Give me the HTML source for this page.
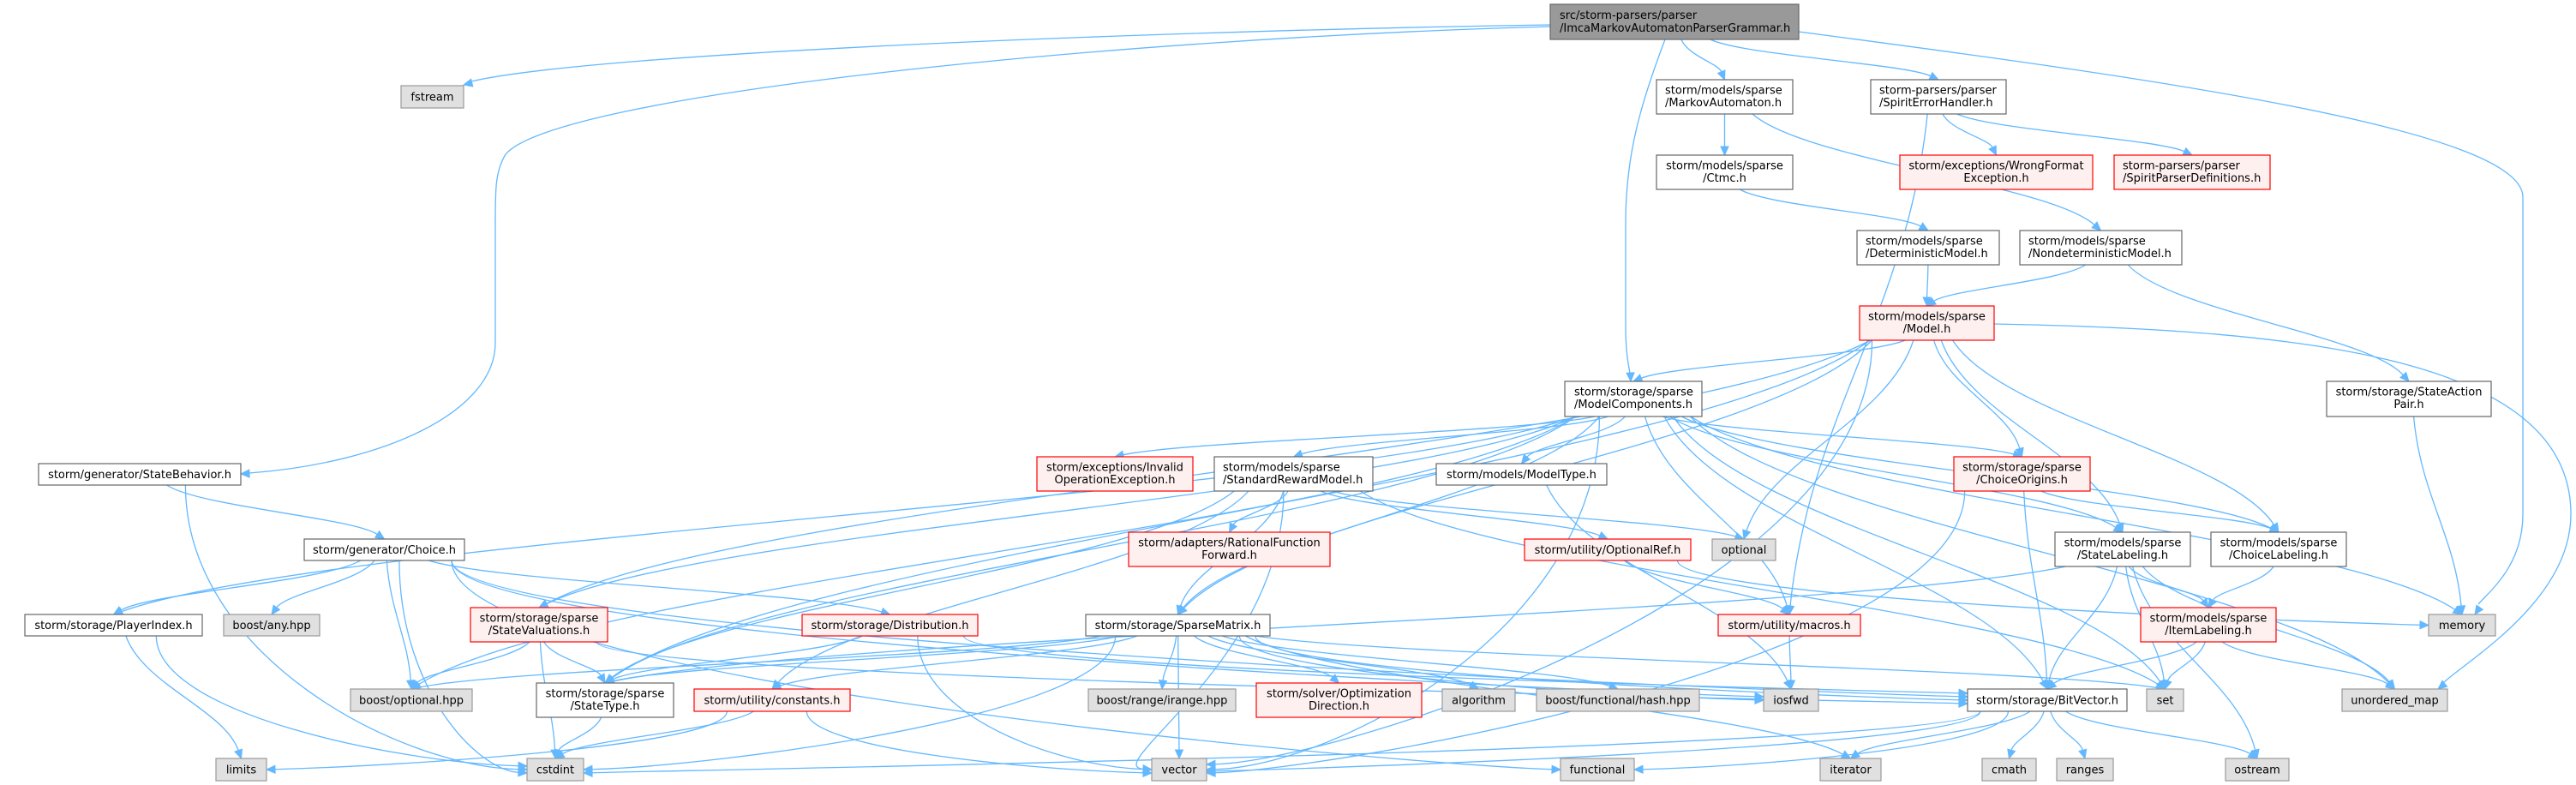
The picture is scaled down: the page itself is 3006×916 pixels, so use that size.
<!DOCTYPE html>
<html><head><meta charset="utf-8">
<style>
html,body{margin:0;padding:0;background:#fff;}
svg{display:block;}
text{font-family:"DejaVu Sans","Liberation Sans",sans-serif;font-size:13px;fill:#000;}
.W{fill:#fff;stroke:#666;stroke-width:1.2}
.G{fill:#e0e0e0;stroke:#999;stroke-width:1.2}
.R{fill:#fff0f0;stroke:#f00;stroke-width:1.2}
.M{fill:#999;stroke:#666;stroke-width:1.2}
#edges path.l{fill:none;stroke:#63b8ff;stroke-width:1.3}
#edges path.a{fill:#63b8ff;stroke:#63b8ff;stroke-width:1}
</style></head>
<body>
<svg id="s" width="3006" height="916" viewBox="0 0 3006 916" xmlns="http://www.w3.org/2000/svg">
<g id="edges"></g>
<g id="nodes">
<rect class="M" x="1809" y="5" width="290" height="41"/><text x="1820" y="22">src/storm-parsers/parser</text><text x="1820" y="37">/ImcaMarkovAutomatonParserGrammar.h</text>
<rect class="G" x="468" y="100" width="73" height="26"/><text x="504.5" y="117.5" text-anchor="middle">fstream</text>
<rect class="W" x="1933" y="93" width="159" height="40"/><text x="1943" y="109.5">storm/models/sparse</text><text x="1943" y="124">/MarkovAutomaton.h</text>
<rect class="W" x="2183" y="93" width="158" height="40"/><text x="2193" y="109.5">storm-parsers/parser</text><text x="2193" y="124">/SpiritErrorHandler.h</text>
<rect class="W" x="1933" y="181" width="159" height="40"/><text x="2012.5" y="197.5" text-anchor="middle">storm/models/sparse</text><text x="2012.5" y="212" text-anchor="middle">/Ctmc.h</text>
<rect class="R" x="2217" y="181" width="225" height="40"/><text x="2329.5" y="197.5" text-anchor="middle">storm/exceptions/WrongFormat</text><text x="2329.5" y="212" text-anchor="middle">Exception.h</text>
<rect class="R" x="2467" y="181" width="182" height="40"/><text x="2477" y="197.5">storm-parsers/parser</text><text x="2477" y="212">/SpiritParserDefinitions.h</text>
<rect class="W" x="2167" y="269" width="166" height="40"/><text x="2177" y="285.5">storm/models/sparse</text><text x="2177" y="300">/DeterministicModel.h</text>
<rect class="W" x="2357" y="269" width="189" height="40"/><text x="2367" y="285.5">storm/models/sparse</text><text x="2367" y="300">/NondeterministicModel.h</text>
<rect class="R" x="2170" y="357" width="157" height="40"/><text x="2248.5" y="373.5" text-anchor="middle">storm/models/sparse</text><text x="2248.5" y="388" text-anchor="middle">/Model.h</text>
<rect class="W" x="1826" y="445" width="160" height="41"/><text x="1837" y="461.5">storm/storage/sparse</text><text x="1837" y="476">/ModelComponents.h</text>
<rect class="W" x="2715" y="445" width="192" height="41"/><text x="2811" y="461.5" text-anchor="middle">storm/storage/StateAction</text><text x="2811" y="476" text-anchor="middle">Pair.h</text>
<rect class="W" x="45" y="541" width="236" height="25"/><text x="163" y="558" text-anchor="middle">storm/generator/StateBehavior.h</text>
<rect class="R" x="1210" y="533" width="182" height="40"/><text x="1301" y="549.5" text-anchor="middle">storm/exceptions/Invalid</text><text x="1301" y="564" text-anchor="middle">OperationException.h</text>
<rect class="W" x="1417" y="533" width="185" height="40"/><text x="1427" y="549.5">storm/models/sparse</text><text x="1427" y="564">/StandardRewardModel.h</text>
<rect class="W" x="1676" y="541" width="199" height="25"/><text x="1775.5" y="558" text-anchor="middle">storm/models/ModelType.h</text>
<rect class="R" x="2280" y="533" width="159" height="40"/><text x="2359.5" y="549.5" text-anchor="middle">storm/storage/sparse</text><text x="2359.5" y="564" text-anchor="middle">/ChoiceOrigins.h</text>
<rect class="W" x="355" y="629" width="187" height="25"/><text x="448.5" y="646" text-anchor="middle">storm/generator/Choice.h</text>
<rect class="R" x="1317" y="621" width="235" height="40"/><text x="1434.5" y="637.5" text-anchor="middle">storm/adapters/RationalFunction</text><text x="1434.5" y="652" text-anchor="middle">Forward.h</text>
<rect class="R" x="1779" y="629" width="194" height="25"/><text x="1876" y="646" text-anchor="middle">storm/utility/OptionalRef.h</text>
<rect class="G" x="1998" y="629" width="74" height="25"/><text x="2035" y="646" text-anchor="middle">optional</text>
<rect class="W" x="2398" y="621" width="158" height="40"/><text x="2477" y="637.5" text-anchor="middle">storm/models/sparse</text><text x="2477" y="652" text-anchor="middle">/StateLabeling.h</text>
<rect class="W" x="2580" y="621" width="158" height="40"/><text x="2659" y="637.5" text-anchor="middle">storm/models/sparse</text><text x="2659" y="652" text-anchor="middle">/ChoiceLabeling.h</text>
<rect class="W" x="29" y="717" width="207" height="25"/><text x="132.5" y="734" text-anchor="middle">storm/storage/PlayerIndex.h</text>
<rect class="G" x="261" y="717" width="112" height="25"/><text x="317" y="734" text-anchor="middle">boost/any.hpp</text>
<rect class="R" x="549" y="709" width="160" height="40"/><text x="629" y="725.5" text-anchor="middle">storm/storage/sparse</text><text x="629" y="740" text-anchor="middle">/StateValuations.h</text>
<rect class="R" x="936" y="717" width="205" height="25"/><text x="1038.5" y="734" text-anchor="middle">storm/storage/Distribution.h</text>
<rect class="W" x="1267" y="717" width="215" height="25"/><text x="1374.5" y="734" text-anchor="middle">storm/storage/SparseMatrix.h</text>
<rect class="R" x="2005" y="717" width="166" height="25"/><text x="2088" y="734" text-anchor="middle">storm/utility/macros.h</text>
<rect class="R" x="2498" y="709" width="158" height="40"/><text x="2577" y="725.5" text-anchor="middle">storm/models/sparse</text><text x="2577" y="740" text-anchor="middle">/ItemLabeling.h</text>
<rect class="G" x="2834" y="717" width="78" height="25"/><text x="2873" y="734" text-anchor="middle">memory</text>
<rect class="G" x="409" y="804" width="142" height="26"/><text x="480" y="821.5" text-anchor="middle">boost/optional.hpp</text>
<rect class="W" x="626" y="797" width="160" height="40"/><text x="706" y="813.5" text-anchor="middle">storm/storage/sparse</text><text x="706" y="828" text-anchor="middle">/StateType.h</text>
<rect class="R" x="810" y="804" width="182" height="26"/><text x="901" y="821.5" text-anchor="middle">storm/utility/constants.h</text>
<rect class="G" x="1270" y="804" width="172" height="26"/><text x="1356" y="821.5" text-anchor="middle">boost/range/irange.hpp</text>
<rect class="R" x="1466" y="797" width="193" height="40"/><text x="1562.5" y="813.5" text-anchor="middle">storm/solver/Optimization</text><text x="1562.5" y="828" text-anchor="middle">Direction.h</text>
<rect class="G" x="1683" y="804" width="85" height="26"/><text x="1725.5" y="821.5" text-anchor="middle">algorithm</text>
<rect class="G" x="1793" y="804" width="190" height="26"/><text x="1888" y="821.5" text-anchor="middle">boost/functional/hash.hpp</text>
<rect class="G" x="2058" y="804" width="64" height="26"/><text x="2090" y="821.5" text-anchor="middle">iosfwd</text>
<rect class="W" x="2296" y="804" width="186" height="26"/><text x="2389" y="821.5" text-anchor="middle">storm/storage/BitVector.h</text>
<rect class="G" x="2505" y="804" width="43" height="26"/><text x="2526.5" y="821.5" text-anchor="middle">set</text>
<rect class="G" x="2733" y="804" width="123" height="26"/><text x="2794.5" y="821.5" text-anchor="middle">unordered_map</text>
<rect class="G" x="252" y="885" width="59" height="26"/><text x="281.5" y="902.5" text-anchor="middle">limits</text>
<rect class="G" x="615" y="885" width="66" height="26"/><text x="648" y="902.5" text-anchor="middle">cstdint</text>
<rect class="G" x="1344" y="885" width="64" height="26"/><text x="1376" y="902.5" text-anchor="middle">vector</text>
<rect class="G" x="1821" y="885" width="86" height="26"/><text x="1864" y="902.5" text-anchor="middle">functional</text>
<rect class="G" x="2124" y="885" width="71" height="26"/><text x="2159.5" y="902.5" text-anchor="middle">iterator</text>
<rect class="G" x="2313" y="885" width="63" height="26"/><text x="2344.5" y="902.5" text-anchor="middle">cmath</text>
<rect class="G" x="2400" y="885" width="66" height="26"/><text x="2433" y="902.5" text-anchor="middle">ranges</text>
<rect class="G" x="2597" y="885" width="74" height="26"/><text x="2634" y="902.5" text-anchor="middle">ostream</text>
</g>
</svg>
<script>
var N={main:[1809,5,2099,46],fstream:[468,100,541,126],MA:[1933,93,2092,133],SEH:[2183,93,2341,133],Ctmc:[1933,181,2092,221],WFE:[2217,181,2442,221],SPD:[2467,181,2649,221],DM:[2167,269,2333,309],NDM:[2357,269,2546,309],Model:[2170,357,2327,397],MC:[1826,445,1986,486],SAP:[2715,445,2907,486],SB:[45,541,281,566],IOE:[1210,533,1392,573],SRM:[1417,533,1602,573],MT:[1676,541,1875,566],CO:[2280,533,2439,573],Choice:[355,629,542,654],RFF:[1317,621,1552,661],OR:[1779,629,1973,654],opt:[1998,629,2072,654],SL:[2398,621,2556,661],CL:[2580,621,2738,661],PI:[29,717,236,742],any:[261,717,373,742],SV:[549,709,709,749],Dist:[936,717,1141,742],SM:[1267,717,1482,742],mac:[2005,717,2171,742],IL:[2498,709,2656,749],mem:[2834,717,2912,742],bopt:[409,804,551,830],ST:[626,797,786,837],cons:[810,804,992,830],irange:[1270,804,1442,830],OD:[1466,797,1659,837],alg:[1683,804,1768,830],hash:[1793,804,1983,830],iosfwd:[2058,804,2122,830],BV:[2296,804,2482,830],set:[2505,804,2548,830],umap:[2733,804,2856,830],limits:[252,885,311,911],cstdint:[615,885,681,911],vector:[1344,885,1408,911],functional:[1821,885,1907,911],iterator:[2124,885,2195,911],cmath:[2313,885,2376,911],ranges:[2400,885,2466,911],ostream:[2597,885,2671,911]};
var G=document.getElementById('edges'),NS='http://www.w3.org/2000/svg';
function P(d,c){var p=document.createElementNS(NS,'path');p.setAttribute('d',d);p.setAttribute('class',c);G.appendChild(p);}
function arrow(cx,cy,ex,ey){var dx=ex-cx,dy=ey-cy,l=Math.sqrt(dx*dx+dy*dy)||1;dx/=l;dy/=l;var bx=ex-dx*10,by=ey-dy*10;
P('M'+ex+','+ey+'L'+(bx-dy*4.5)+','+(by+dx*4.5)+'L'+(bx+dy*4.5)+','+(by-dx*4.5)+'Z','a');return [bx,by];}
function raw(d,cx,cy,ex,ey){var b=arrow(cx,cy,ex,ey);P(d+' '+b[0]+','+b[1],'l');}
function E(s,t,side,off){var a=N[s],b=N[t];var scx=(a[0]+a[2])/2,tcx=(b[0]+b[2])/2;off=off||0;
var f=Math.max(-1,Math.min(1,(tcx-scx)/900));var x1=scx+(a[2]-a[0])*0.42*f,y1=a[3];
var x2,y2,c1x,c1y,c2x,c2y;
if(side=='L'){x2=b[0];y2=(b[1]+b[3])/2+off;var dy=y2-y1;c1x=x1;c1y=y1+dy*0.6;c2x=x2-Math.min(150,Math.abs(x2-x1)*0.4);c2y=y2-4;}
else if(side=='R'){x2=b[2];y2=(b[1]+b[3])/2+off;var dy=y2-y1;c1x=x1;c1y=y1+dy*0.6;c2x=x2+Math.min(150,Math.abs(x2-x1)*0.4);c2y=y2-4;}
else{x2=tcx+off;y2=b[1];var dy=y2-y1;c1x=x1+(x2-x1)*0.15;c1y=y1+dy*0.4;c2x=x2-(x2-x1)*0.15;c2y=y2-dy*0.4;}
var bb=arrow(c2x,c2y,x2,y2);P('M'+x1+','+y1+' C'+c1x+','+c1y+' '+c2x+','+c2y+' '+bb[0]+','+bb[1],'l');}
raw('M1809,29 C1400,35 700,60 550,95',700,60,541,99);
raw('M1809,31 C1300,45 650,110 590,180 C578,200 578,220 578,260 L578,400 C578,480 450,540 291,552',400,548,281,553);
raw('M2099,37 C2500,90 2944,150 2944,230 L2944,600 C2944,660 2905,690 2892,705',2920,670,2888,717);
raw('M2327,378 C2700,385 3000,420 3000,600 C3000,700 2880,770 2852,796',2900,760,2845,804);
raw('M1943,46 C1915,120 1897,180 1897,260 L1897,380 C1897,410 1900,425 1902,435',1901,400,1903,445);
[['main','MA'],['main','SEH'],['MA','Ctmc'],['MA','NDM'],['Ctmc','DM'],['SEH','WFE'],['SEH','SPD'],['SEH','mac'],['DM','Model'],['NDM','Model'],['NDM','SAP'],['SAP','mem'],
['Model','MC'],['Model','SM'],['Model','SV'],['Model','ST'],['Model','opt'],['Model','CO'],['Model','SL'],['Model','CL'],['Model','vector','R',-6],
['MC','IOE'],['MC','SRM'],['MC','MT'],['MC','CO'],['MC','SL'],['MC','CL'],['MC','SM'],['MC','SV'],['MC','ST'],['MC','PI'],['MC','bopt'],['MC','mac'],['MC','BV'],['MC','mem'],['MC','umap'],['MC','set'],['MC','vector','R'],
['SRM','RFF'],['SRM','SM'],['SRM','OR'],['SRM','opt'],['SRM','cons'],['SRM','vector','L'],['SRM','ST'],['SRM','set'],
['MT','iosfwd'],['OR','mac'],['OR','mem','L'],['mac','iosfwd'],
['CO','CL'],['CO','BV'],['CO','vector','R',4],
['SL','IL'],['SL','BV'],['SL','set'],['SL','umap'],['SL','ostream'],['SL','ST'],['CL','IL'],
['IL','BV'],['IL','set'],['IL','umap'],
['BV','iterator'],['BV','cmath'],['BV','ranges'],['BV','ostream'],['BV','vector','R',2],['BV','functional','R'],['BV','cstdint','R',4],
['SM','irange'],['SM','OD'],['SM','alg'],['SM','hash'],['SM','iosfwd','L'],['SM','BV','L'],['SM','ST'],['SM','bopt'],['SM','cons'],['SM','cstdint','R'],['SM','vector'],['SM','iterator'],['SM','set'],
['SB','Choice'],['SB','cstdint','L'],
['Choice','PI'],['Choice','any'],['Choice','bopt'],['Choice','cstdint','L',4],['Choice','Dist'],['Choice','BV','L',-4],['Choice','functional','L'],['Choice','iosfwd','L',-4],
['PI','limits'],['PI','cstdint','L',-4],
['SV','bopt'],['SV','ST'],['SV','cstdint'],['SV','BV','L',4],
['Dist','ST'],['Dist','vector','L'],['Dist','BV','L',-8],
['ST','cstdint'],['cons','limits','R'],['cons','cstdint'],['cons','vector','L',4]
].forEach(function(e){E(e[0],e[1],e[2],e[3]);});
</script>
</body></html>
